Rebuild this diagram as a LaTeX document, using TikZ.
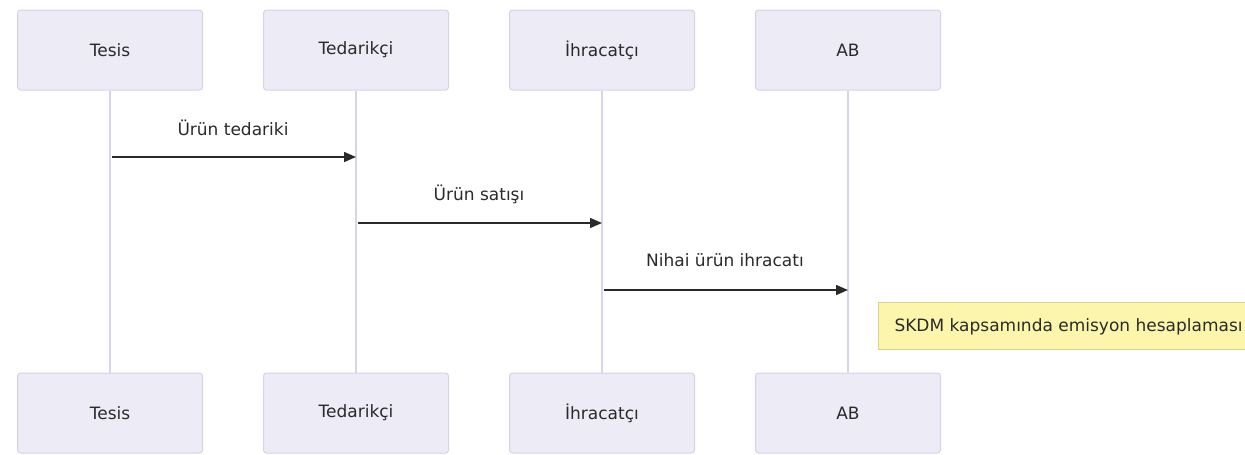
\documentclass[tikz,border=0pt]{standalone}
\usepackage{fontspec}
\setmainfont{DejaVu Sans}
\usetikzlibrary{arrows.meta}
\definecolor{actfill}{HTML}{EDEBF6}
\definecolor{actdraw}{HTML}{D6D2E8}
\definecolor{lifeline}{HTML}{D9D3EC}
\definecolor{notefill}{HTML}{FCF6AC}
\definecolor{notedraw}{HTML}{D8D28A}
\definecolor{txt}{HTML}{2A2A2A}
\tikzset{
  actor/.style={draw=actdraw, fill=actfill, line width=1pt, rounded corners=3pt,
    minimum width=185pt, minimum height=80pt, inner sep=0pt,
    font=\fontsize{17}{20}\selectfont, text=txt},
  life/.style={draw=lifeline, line width=1.5pt},
  msg/.style={draw=txt, line width=1.5pt, -{Triangle[length=12pt,width=10pt]}},
  msglabel/.style={font=\fontsize{17}{20}\selectfont, text=txt}
}
\begin{document}
\begin{tikzpicture}[x=1pt,y=-1pt]
\useasboundingbox (0,0) rectangle (1245,455);
% top actors
\node[actor] (t1) at (110,50) {Tesis};
\node[actor] (t2) at (356,50) {Tedarikçi};
\node[actor] (t3) at (602,50) {İhracatçı};
\node[actor] (t4) at (848,50) {AB};
% bottom actors
\node[actor] (b1) at (110,413) {Tesis};
\node[actor] (b2) at (356,413) {Tedarikçi};
\node[actor] (b3) at (602,413) {İhracatçı};
\node[actor] (b4) at (848,413) {AB};
% lifelines
\draw[life] (t1.south) -- (b1.north);
\draw[life] (t2.south) -- (b2.north);
\draw[life] (t3.south) -- (b3.north);
\draw[life] (t4.south) -- (b4.north);
% messages
\coordinate (m1s) at (112,157);
\coordinate (m1e) at (356,157);
\coordinate (m2s) at (358,223);
\coordinate (m2e) at (602,223);
\coordinate (m3s) at (604,290);
\coordinate (m3e) at (848,290);
\draw[msg] (m1s) -- (m1e);
\draw[msg] (m2s) -- (m2e);
\draw[msg] (m3s) -- (m3e);
\node[msglabel] (l1) at (233,128) {Ürün tedariki};
\node[msglabel] (l2) at (479,194) {Ürün satışı};
\node[msglabel] (l3) at (725,260) {Nihai ürün ihracatı};
% note
\fill[notefill] (878,302) rectangle (1245,349);
\draw[notedraw, line width=1pt] (1245,302) -- (878,302) -- (878,349) -- (1245,349);
\node[anchor=west, font=\fontsize{17}{20}\selectfont, text=txt] (note) at (891,327) {SKDM kapsamında emisyon hesaplaması};
\end{tikzpicture}
\end{document}
